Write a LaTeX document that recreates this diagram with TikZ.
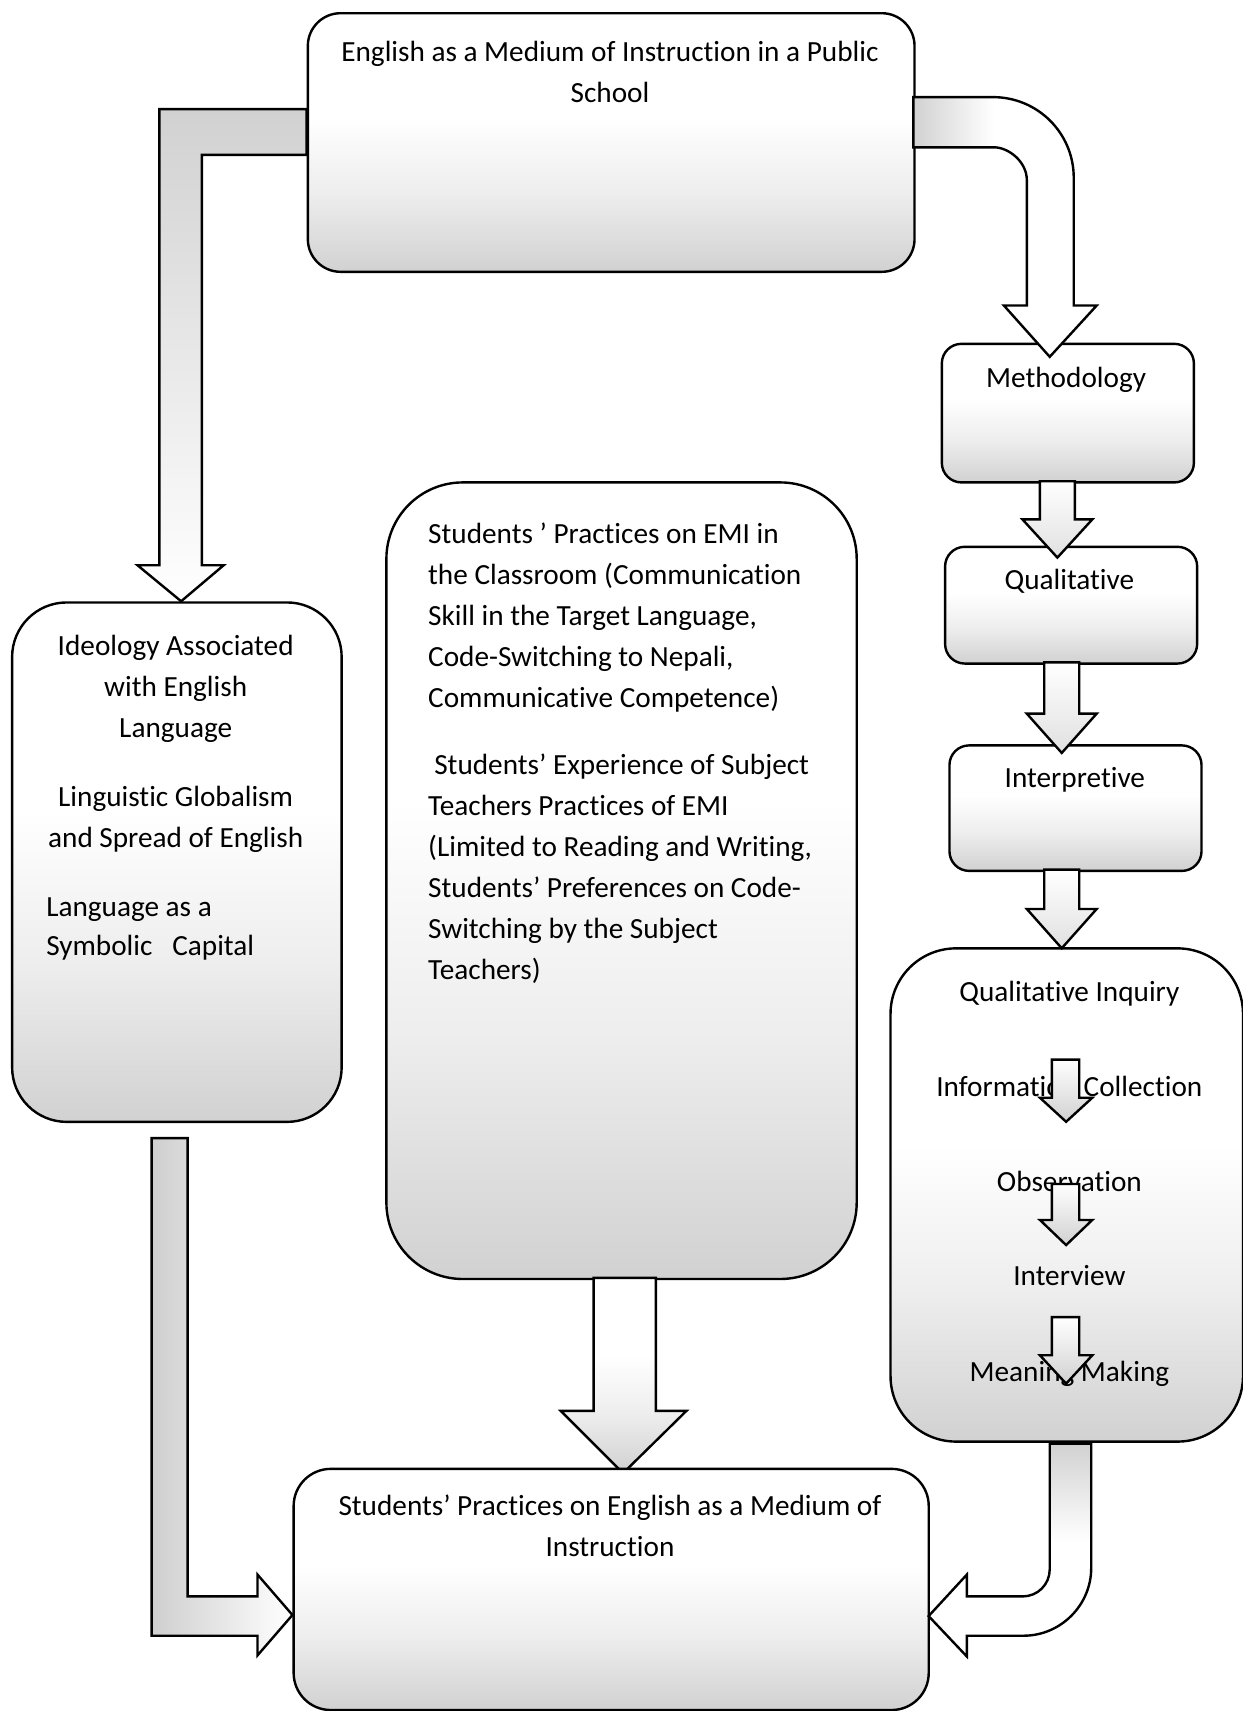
\documentclass[tikz,border=0pt]{standalone}
\usepackage{fontspec}
\setmainfont{Carlito}[Ligatures=NoCommon]
\pgfdeclareverticalshading{boxshade}{100bp}{color(0bp)=(gray!36); color(25bp)=(gray!36); color(40bp)=(gray!14); color(55bp)=(white); color(100bp)=(white)}
\pgfdeclareverticalshading{topgray}{100bp}{color(0bp)=(white); color(52bp)=(white); color(75bp)=(gray!36); color(100bp)=(gray!36)}
\pgfdeclarehorizontalshading{leftgray}{100bp}{color(0bp)=(gray!36); color(25bp)=(gray!36); color(47bp)=(white); color(100bp)=(white)}
\tikzset{
  box/.style={draw, line width=1.1pt, shade, shading=boxshade, inner sep=0pt, anchor=north west},
  blockarrow/.style={draw, line width=1.1pt},
  txt/.style={inner sep=0pt, font=\fontsize{13.4pt}{18.75pt}\selectfont},
}
\begin{document}
\begin{tikzpicture}[x=0.5pt,y=-0.5pt]
\useasboundingbox (0,0) rectangle (1139,1568);

% boxes
\node[box, rounded corners=15pt, minimum width=278pt, minimum height=118.5pt] (top) at (281,11) {};
\node[box, rounded corners=9pt, minimum width=115.5pt, minimum height=63.5pt] (meth) at (862,314) {};
\node[box, rounded corners=9pt, minimum width=115.5pt, minimum height=53.5pt] (qual) at (865,500) {};
\node[box, rounded corners=9pt, minimum width=115.5pt, minimum height=57.5pt] (interp) at (869,682) {};
\node[box, rounded corners=30pt, minimum width=161.5pt, minimum height=226pt] (qi) at (815,868) {};
\node[box, rounded corners=25pt, minimum width=151pt, minimum height=238pt] (ideo) at (10,551) {};
\node[box, rounded corners=35pt, minimum width=215.5pt, minimum height=365pt] (mid) at (353,441) {};

% middle arrow (under the bottom box)
\draw[blockarrow, shade, shading=boxshade] (544,1171) -- (544,1293) -- (514,1293) -- (571,1350) -- (629,1293) -- (601,1293) -- (601,1171) -- cycle;

\node[box, rounded corners=17pt, minimum width=291pt, minimum height=110.5pt] (bot) at (268,1345) {};

% texts (multi-line nodes: anchor=base sits on the last line)
\node[txt, anchor=base, align=center] (tTop) at (559,93.5) {English as a Medium of Instruction in a Public\\School};
\node[txt, anchor=base] (tMeth) at (977,355) {Methodology};
\node[txt, anchor=base] (tQual) at (980,540) {Qualitative};
\node[txt, anchor=base] (tInt) at (985,722) {Interpretive};
\node[txt, anchor=base] (tQI1) at (980,918) {Qualitative Inquiry};
\node[txt, anchor=base] (tQI2) at (980,1005) {Information Collection};
\node[txt, anchor=base] (tQI3) at (980,1092) {Observation};
\node[txt, anchor=base] (tQI4) at (980,1178) {Interview};
\node[txt, anchor=base] (tQI5) at (980,1266) {Meaning Making};
\node[txt, anchor=base, align=center] (tIdeo1) at (161,676) {Ideology Associated\\with English\\Language};
\node[txt, anchor=base, align=center] (tIdeo2) at (161,776.5) {Linguistic Globalism\\and Spread of English};
\node[txt, anchor=base west, align=left, font=\fontsize{13.4pt}{18pt}\selectfont] (tIdeo3) at (42,876) {Language as a\\Symbolic~~~Capital};
\node[txt, anchor=base west, align=left] (tMid1) at (392,648) {Students ’ Practices on EMI in\\the Classroom (Communication\\Skill in the Target Language,\\Code-Switching to Nepali,\\Communicative Competence)};
\node[txt, anchor=base west, align=left] (tMid2) at (392,897.5) {\hspace*{2.8pt}Students’ Experience of Subject\\Teachers Practices of EMI\\(Limited to Reading and Writing,\\Students’ Preferences on Code-\\Switching by the Subject\\Teachers)};
\node[txt, anchor=base, align=center] (tBot) at (559,1426.5) {Students’ Practices on English as a Medium of\\Instruction};

% top -> ideology
\draw[blockarrow, top color=gray!36, bottom color=white] (281,100) -- (146,100) -- (146,518) -- (126,518) -- (166,551) -- (205,518) -- (185,518) -- (185,142) -- (281,142) -- cycle;
% top -> methodology
\draw[blockarrow, shade, shading=leftgray] (837,89) -- (910,89) .. controls (951,89) and (984,122) .. (984,163) -- (984,280) -- (1005,280) -- (962,327) -- (920,280) -- (941,280) -- (941,165) .. controls (941,148) and (924,135) .. (911,135) -- (837,135) -- cycle;
% right column
\draw[blockarrow, top color=white, bottom color=gray!24] (953,441) -- (953,476) -- (937,476) -- (969,511) -- (1001,476) -- (985,476) -- (985,441) -- cycle;
\draw[blockarrow, top color=white, bottom color=gray!24] (957,607) -- (957,654) -- (941,654) -- (973,690) -- (1005,654) -- (989,654) -- (989,607) -- cycle;
\draw[blockarrow, top color=white, bottom color=gray!24] (957,797) -- (957,833) -- (941,833) -- (973,869) -- (1005,833) -- (989,833) -- (989,797) -- cycle;
% inside qualitative inquiry
\draw[blockarrow, top color=white, bottom color=gray!36] (964,971) -- (964,1006) -- (953,1006) -- (977,1028) -- (1001,1006) -- (989,1006) -- (989,971) -- cycle;
\draw[blockarrow, top color=white, bottom color=gray!36] (964,1085) -- (964,1118) -- (953,1118) -- (977,1141) -- (1001,1118) -- (989,1118) -- (989,1085) -- cycle;
\draw[blockarrow, top color=white, bottom color=gray!36] (964,1207) -- (964,1242) -- (953,1242) -- (977,1268) -- (1001,1242) -- (989,1242) -- (989,1207) -- cycle;
% ideology -> bottom
\draw[blockarrow, left color=gray!38, right color=white] (139,1043) -- (139,1499) -- (236,1499) -- (236,1517) -- (268,1480) -- (236,1443) -- (236,1463) -- (172,1463) -- (172,1043) -- cycle;
% qualitative inquiry -> bottom
\draw[blockarrow, shade, shading=topgray] (962,1323) -- (962,1438) .. controls (962,1452) and (951,1463) .. (937,1463) -- (886,1463) -- (886,1443) -- (851,1481) -- (886,1518) -- (886,1499) -- (938,1499) .. controls (972,1499) and (1000,1471) .. (1000,1437) -- (1000,1323) -- cycle;
\end{tikzpicture}
\end{document}
